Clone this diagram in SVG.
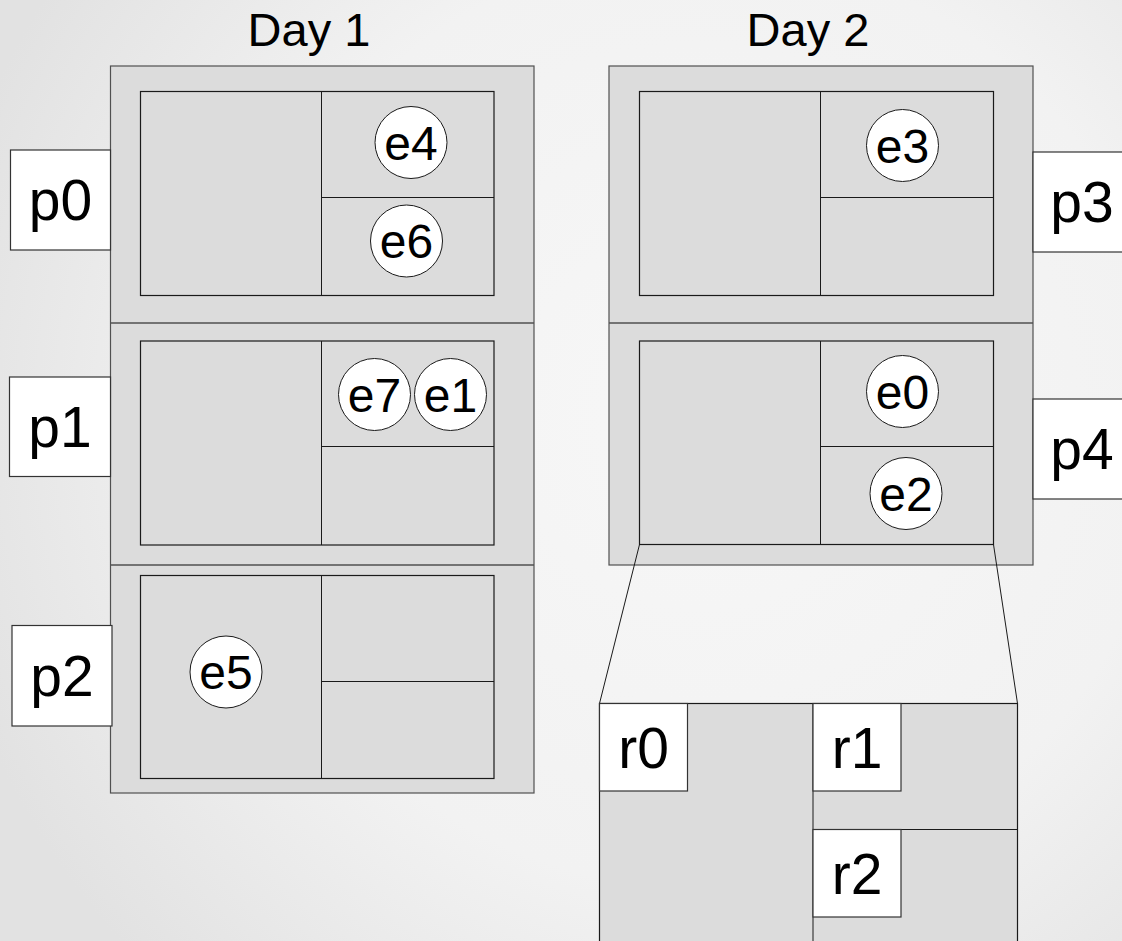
<svg xmlns="http://www.w3.org/2000/svg" width="1122" height="941" viewBox="0 0 1122 941">
<defs>
<radialGradient id="bg" cx="700" cy="420" r="780" gradientUnits="userSpaceOnUse">
<stop offset="0" stop-color="#f7f7f7"/>
<stop offset="0.6" stop-color="#f2f2f2"/>
<stop offset="1" stop-color="#e2e2e2"/>
</radialGradient>
<style>
.outer{fill:#dcdcdc;stroke:#505050;stroke-width:1.2}
.sep{stroke:#505050;stroke-width:1.5;fill:none}
.inner{fill:#dcdcdc;stroke:#1a1a1a;stroke-width:1.2}
.div{stroke:#1a1a1a;stroke-width:1;fill:none}
.lab{fill:#ffffff;stroke:#333333;stroke-width:1.2}
.ev{fill:#ffffff;stroke:#1a1a1a;stroke-width:1}
.big{font-family:"Liberation Sans",Arial,sans-serif;font-size:57px;fill:#000;text-anchor:middle}
.et{font-family:"Liberation Sans",Arial,sans-serif;font-size:48px;fill:#000;text-anchor:middle}
.day{font-family:"Liberation Sans",Arial,sans-serif;font-size:47px;fill:#000;text-anchor:middle}
.lens{stroke:#1a1a1a;stroke-width:1;fill:none}
</style>
</defs>
<rect x="0" y="0" width="1122" height="941" fill="url(#bg)"/>

<g id="day1">
<text class="day" x="309" y="46">Day 1</text>
<rect class="outer" x="110.5" y="66" width="423.5" height="727"/>
<line class="sep" x1="110.5" y1="323" x2="534" y2="323"/>
<line class="sep" x1="110.5" y1="565" x2="534" y2="565"/>
</g>

<g id="day1-slot1">
<rect class="inner" x="140.5" y="91.5" width="353.5" height="204"/>
<line class="div" x1="321.5" y1="91.5" x2="321.5" y2="295.5"/>
<line class="div" x1="321.5" y1="197.5" x2="494" y2="197.5"/>
</g>
<g id="day1-slot2">
<rect class="inner" x="140.5" y="341" width="353.5" height="204"/>
<line class="div" x1="321.5" y1="341" x2="321.5" y2="545"/>
<line class="div" x1="321.5" y1="446.5" x2="494" y2="446.5"/>
</g>
<g id="day1-slot3">
<rect class="inner" x="140.5" y="575.5" width="353.5" height="203"/>
<line class="div" x1="321.5" y1="575.5" x2="321.5" y2="778.5"/>
<line class="div" x1="321.5" y1="681.5" x2="494" y2="681.5"/>
</g>

<g id="day2">
<text class="day" x="808" y="46">Day 2</text>
<rect class="outer" x="609" y="66" width="424" height="499"/>
<line class="sep" x1="609" y1="323" x2="1033" y2="323"/>
</g>
<g id="day2-slot1">
<rect class="inner" x="639.5" y="91.5" width="354" height="204"/>
<line class="div" x1="820.5" y1="91.5" x2="820.5" y2="295.5"/>
<line class="div" x1="820.5" y1="197.5" x2="993.5" y2="197.5"/>
</g>
<g id="day2-slot2">
<rect class="inner" x="639.5" y="341" width="354" height="203.5"/>
<line class="div" x1="820.5" y1="341" x2="820.5" y2="544.5"/>
<line class="div" x1="820.5" y1="446.5" x2="993.5" y2="446.5"/>
</g>

<g id="p0"><rect class="lab" x="10.5" y="150" width="100" height="100"/><text class="big" x="60.5" y="220">p0</text></g>
<g id="p1"><rect class="lab" x="9.5" y="377" width="101" height="99.5"/><text class="big" x="60" y="447">p1</text></g>
<g id="p2"><rect class="lab" x="12" y="625.5" width="100" height="100.5"/><text class="big" x="62" y="696">p2</text></g>
<g id="p3"><rect class="lab" x="1033" y="152" width="100" height="100"/><text class="big" x="1082" y="222">p3</text></g>
<g id="p4"><rect class="lab" x="1033" y="399" width="100" height="100"/><text class="big" x="1082" y="469">p4</text></g>

<g id="e4"><circle class="ev" cx="411" cy="142.5" r="36"/><text class="et" x="411" y="159.5">e4</text></g>
<g id="e6"><circle class="ev" cx="406.5" cy="241" r="36"/><text class="et" x="406.5" y="258">e6</text></g>
<g id="e7"><circle class="ev" cx="374.5" cy="394.5" r="36"/><text class="et" x="374.5" y="411.5">e7</text></g>
<g id="e1"><circle class="ev" cx="450.5" cy="394.5" r="36"/><text class="et" x="450.5" y="411.5">e1</text></g>
<g id="e5"><circle class="ev" cx="226" cy="672" r="36"/><text class="et" x="226" y="689">e5</text></g>
<g id="e3"><circle class="ev" cx="902.5" cy="145.5" r="36"/><text class="et" x="902.5" y="162.5">e3</text></g>
<g id="e0"><circle class="ev" cx="902.5" cy="391.5" r="36"/><text class="et" x="902.5" y="408.5">e0</text></g>
<g id="e2"><circle class="ev" cx="906" cy="493.5" r="36"/><text class="et" x="906" y="510.5">e2</text></g>

<g id="connectors">
<line class="lens" x1="639.5" y1="544.5" x2="599.5" y2="703.5"/>
<line class="lens" x1="993.5" y1="544.5" x2="1017.5" y2="703.5"/>
</g>

<g id="zoom">
<rect class="inner" x="599.5" y="703.5" width="418" height="260"/>
<line class="div" x1="813" y1="703.5" x2="813" y2="941"/>
<line class="div" x1="813" y1="829.5" x2="1017.5" y2="829.5"/>
</g>
<g id="r0"><rect class="lab" x="599.5" y="703.5" width="88" height="87.5"/><text class="big" x="643.5" y="767.5">r0</text></g>
<g id="r1"><rect class="lab" x="813" y="703.5" width="88" height="87.5"/><text class="big" x="857" y="767.5">r1</text></g>
<g id="r2"><rect class="lab" x="813" y="829.5" width="88" height="87.5"/><text class="big" x="857" y="893.5">r2</text></g>
</svg>
